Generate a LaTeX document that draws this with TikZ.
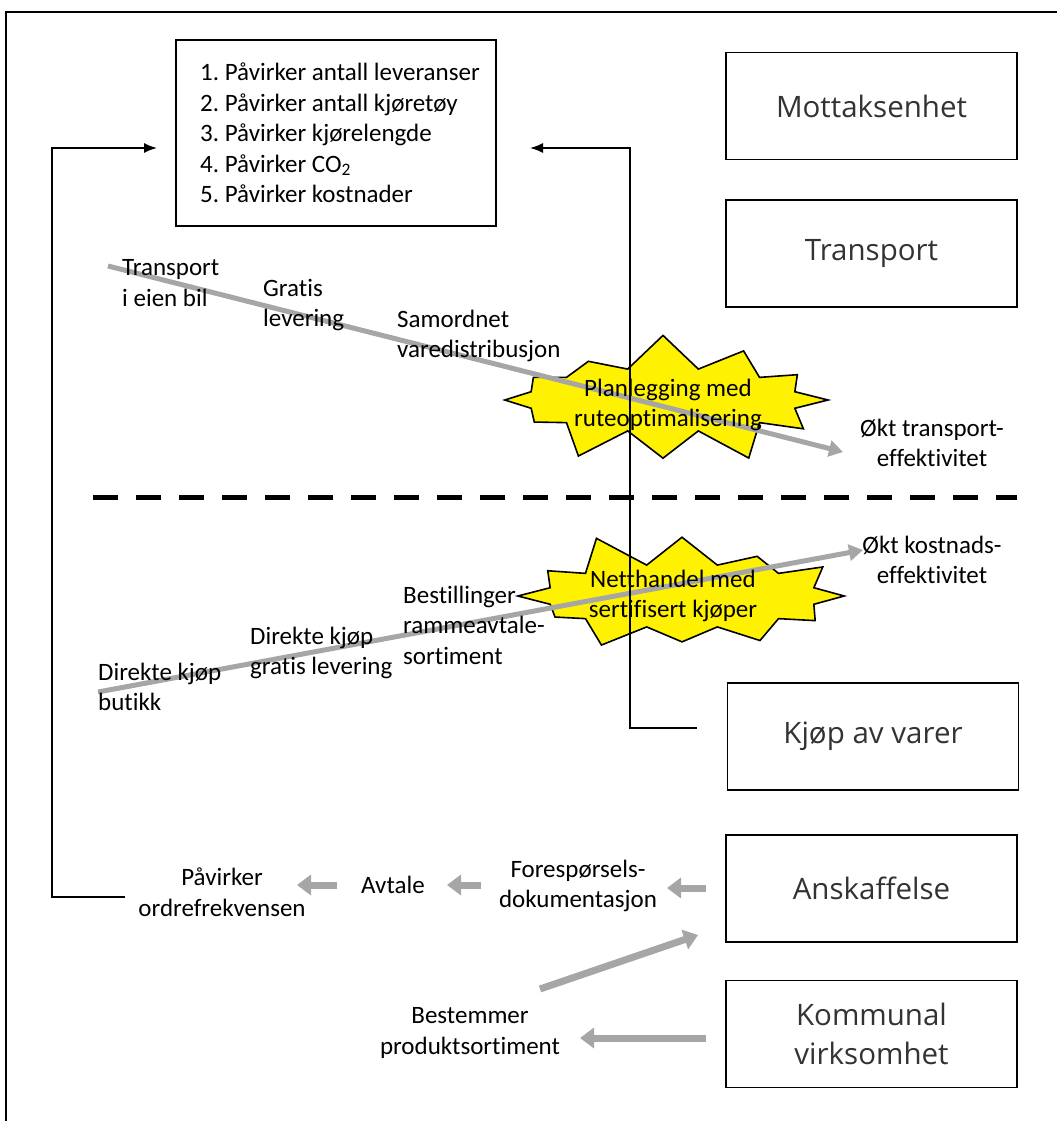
\documentclass[tikz,border=0pt]{standalone}
\usepackage{fontspec}
\setmainfont{Carlito}[Ligatures=NoCommon]
\newfontfamily\boxfont{Open Sans}
\usetikzlibrary{positioning, shapes.symbols, arrows.meta}
\frenchspacing

\tikzset{
  unitbox/.style={draw=black, line width=1.6pt, minimum width=291pt, minimum height=107pt,
    font=\boxfont\fontsize{29.5}{39}\selectfont, align=center, text=black!80},
  lbl/.style={font=\fontsize{25}{30.5}\selectfont, inner sep=0pt},
  burst/.style={starburst, draw=black, fill=yellow, line width=1.6pt, starburst points=12,
    starburst point height=36pt, minimum width=345pt, minimum height=136pt, inner sep=0pt},
  trend/.style={draw=black!35, line width=5pt, -{Triangle[length=14pt,width=16pt]}},
  flow/.style={draw=black!35, line width=7pt, -{Triangle[length=14pt,width=20pt]}},
  feed/.style={black, line width=1.6pt, -{Latex[length=13pt,width=10pt]}},
}

\begin{document}
\begin{tikzpicture}[x=1pt, y=-1pt]
  \useasboundingbox (0,0) rectangle (1057,1121);
  \draw[line width=2pt] (6,1121) -- (6,12) -- (1057,12);

  % effects
  \node[draw=black, line width=1.6pt, minimum width=320pt, minimum height=186pt] (effects) at (336,133) {};
  \node[lbl, align=left, anchor=west, font=\fontsize{25}{30.5}\selectfont] (effectlist) at (200,133)
    {1. Påvirker antall leveranser\\ 2. Påvirker antall kjøretøy\\ 3. Påvirker kjørelengde\\
     4. Påvirker CO\textsubscript{2}\\ 5. Påvirker kostnader};

  % units
  \node[unitbox] (mottak) at (871.5,106) {Mottaksenhet};
  \node[unitbox] (transport) at (871.5,253.5) {Transport};
  \node[unitbox] (kjop) at (873,736.5) {Kjøp av varer};
  \node[unitbox] (anskaff) at (871.5,888.5) {Anskaffelse};
  \node[unitbox] (kommunal) at (871.5,1034) {Kommunal\\virksomhet};

  \draw[line width=5pt, dash pattern=on 25pt off 18pt] (93,497) -- (1017,497);

  % bursts
  \node[burst, random starburst=7] (planburst) at (663,400) {};
  \node[burst, random starburst=11] (nettburst) at (682,596) {};

  % trends
  \coordinate (transstart) at (108,266);
  \coordinate (transend) at (843,452);
  \coordinate (kostart) at (98,692);
  \coordinate (kostend) at (863,550);
  \draw[trend] (transstart) -- (transend);
  \draw[trend] (kostart) -- (kostend);

  % feedback
  \coordinate (leftfoot) at (125,897);
  \coordinate (leftcorner) at (52,148);
  \coordinate (leftin) at (157,148);
  \coordinate (rightfoot) at (697,728);
  \coordinate (rightcorner) at (630,148);
  \coordinate (rightin) at (530,148);
  \draw[feed] (leftfoot) -| (leftcorner) -- (leftin);
  \draw[feed] (rightfoot) -| (rightcorner) -- (rightin);

  \node[lbl, align=center] (plan) at (668,405) {Planlegging med\\ruteoptimalisering};
  \node[lbl, align=center] (nett) at (673,596) {Netthandel med\\sertifisert kjøper};

  \node[lbl, align=left, anchor=west] (eienbil) at (122,283) {Transport\\i eien bil};
  \node[lbl, align=left, anchor=west] (gratis) at (263,305) {Gratis\\levering};
  \node[lbl, align=left, anchor=west] (samordnet) at (397,336) {Samordnet\\varedistribusjon};
  \node[lbl, align=center] (transeff) at (932,443) {Økt transport-\\effektivitet};
  \node[lbl, align=center] (kosteff) at (932,560) {Økt kostnads-\\effektivitet};
  \node[lbl, align=left, anchor=west] (bestilling) at (403,625) {Bestillinger\\rammeavtale-\\sortiment};
  \node[lbl, align=left, anchor=west] (direktegratis) at (250,653) {Direkte kjøp\\gratis levering};
  \node[lbl, align=left, anchor=west] (direktebutikk) at (98,687) {Direkte kjøp\\butikk};

  \node[lbl, align=center] (ordre) at (222,892) {Påvirker\\ordrefrekvensen};
  \node[lbl] (avtale) at (393,885) {Avtale};
  \node[lbl, align=center] (foresp) at (578,886) {Forespørsels-\\dokumentasjon};
  \node[lbl, align=center] (sortiment) at (470,1033) {Bestemmer\\produktsortiment};

  % process arrows
  \coordinate (ansout) at (706,888);
  \coordinate (forin) at (667,888);
  \coordinate (forout) at (481,885);
  \coordinate (avin) at (447,885);
  \coordinate (avout) at (337,885);
  \coordinate (ordin) at (297,885);
  \coordinate (sortout) at (540,989);
  \coordinate (ansin) at (698,935);
  \coordinate (komout) at (706,1038);
  \coordinate (sortin) at (580,1038);
  \draw[flow] (ansout) -- (forin);
  \draw[flow] (forout) -- (avin);
  \draw[flow] (avout) -- (ordin);
  \draw[flow] (sortout) -- (ansin);
  \draw[flow] (komout) -- (sortin);
\end{tikzpicture}
\end{document}
